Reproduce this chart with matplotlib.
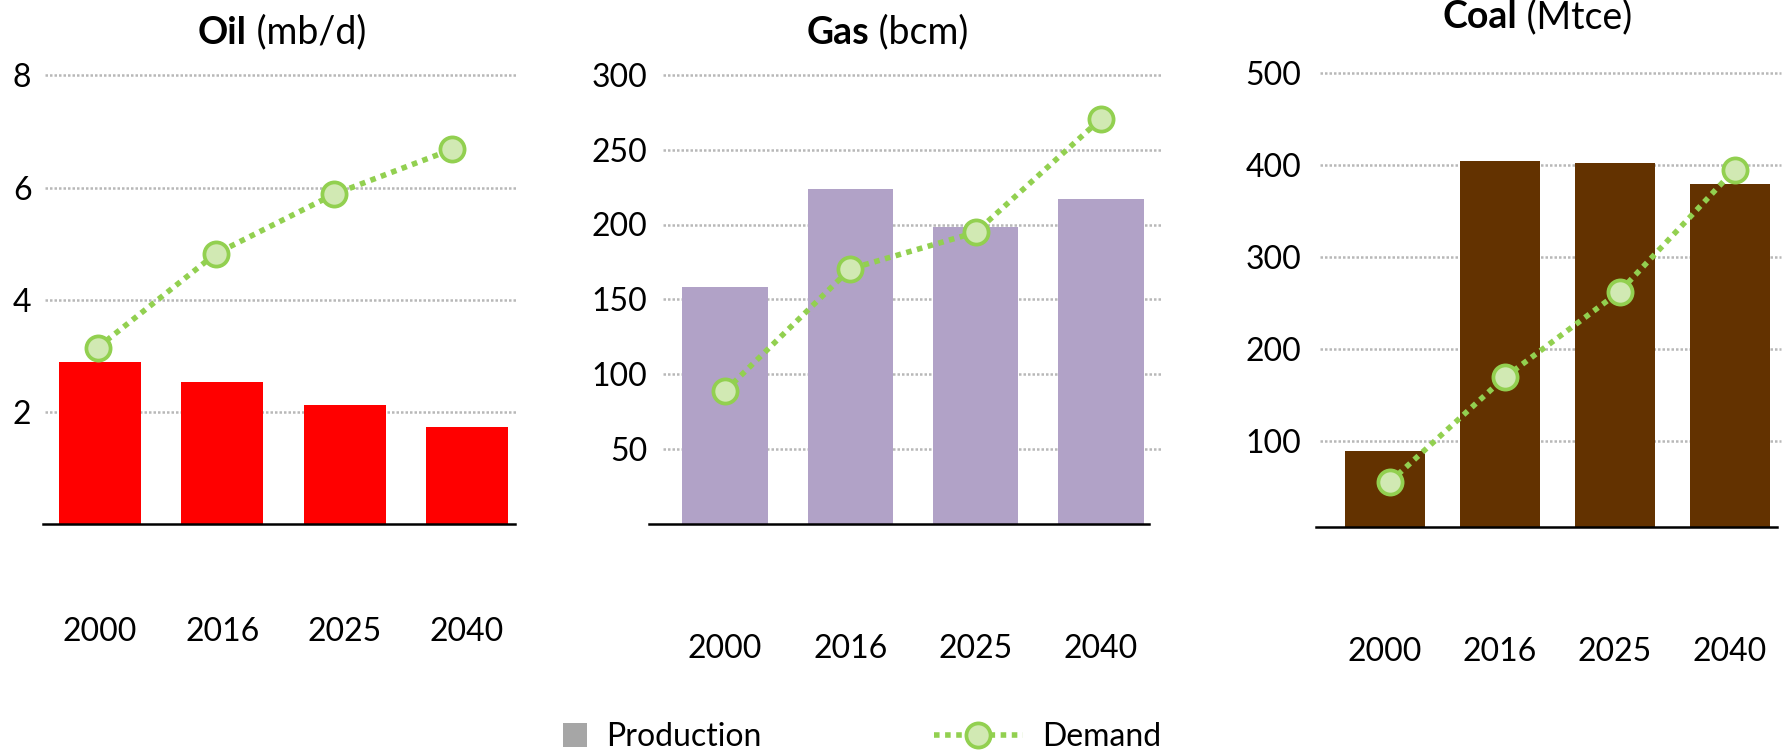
import matplotlib
matplotlib.use("Agg")
import matplotlib.pyplot as plt
from matplotlib.patches import Patch
from matplotlib.lines import Line2D

plt.rcParams['font.family'] = ['Lato', 'DejaVu Sans']

# ---------------- data ----------------
years = ["2000", "2016", "2025", "2040"]

oil_production = [2.89, 2.53, 2.13, 1.73]
oil_demand = [3.15, 4.82, 5.88, 6.68]
oil_ticks = [2, 4, 6, 8]

gas_production = [158.2, 223.7, 198.2, 217.1]
gas_demand = [88.9, 170.4, 194.7, 270.4]
gas_ticks = [50, 100, 150, 200, 250, 300]

coal_production = [89.6, 404.7, 402.7, 379.8]
coal_demand = [55.9, 169.5, 262.7, 395.0]
coal_ticks = [100, 200, 300, 400, 500]

titles_bold = ["Oil", "Gas", "Coal"]
titles_unit = [" (mb/d)", " (bcm)", " (Mtce)"]
legend_labels = ["Production", "Demand"]

# ---------------- style ----------------
W, H = 1791, 754
GREEN = '#92D050'
GREEN_FACE = '#D1E9B3'
FS = 23
LINE_W = 4.0
DOTS = (0, (1, 1))

fig = plt.figure(figsize=(W / 100, H / 100), dpi=100)


def fx(px):
    return px / W


def fy(py):
    return 1 - py / H


panels = [
    dict(prod=oil_production, dem=oil_demand, ticks=oil_ticks, color='#FF0000',
         box=(43.2, 514.7, 75.4, 524.3), ylim=(0, 8),
         bar_xlim=(-0.4655, 3.391), line_xlim=(-0.461, 3.534), width=0.67,
         grid_span=(0.003, 1.0025), ypad=8.5, xpad=67,
         title_cx=282, title_base=43.6),
    dict(prod=gas_production, dem=gas_demand, ticks=gas_ticks, color='#B1A2C7',
         box=(649.0, 1149.2, 74.6, 524.3), ylim=(0, 300),
         bar_xlim=(-0.6064, 3.386), line_xlim=(-0.6064, 3.386), width=0.682,
         grid_span=(0.028, 1.025), ypad=1.0, xpad=79,
         title_cx=887.4, title_base=43.6),
    dict(prod=coal_production, dem=coal_demand, ticks=coal_ticks, color='#633200',
         box=(1316.1, 1776.7, 73.2, 526.8), ylim=(7.3, 500),
         bar_xlim=(-0.600, 3.406), line_xlim=(-0.639, 3.367), width=0.695,
         grid_span=(0.008, 1.0096), ypad=10.9, xpad=79,
         title_cx=1537, title_base=27.9),
]

renderer = fig.canvas.get_renderer()

for i, p in enumerate(panels):
    x0, x1, ytop, ybot = p['box']
    ax = fig.add_axes([fx(x0), fy(ybot), fx(x1 - x0), (ybot - ytop) / H])
    xs = list(range(len(years)))
    ax.bar(xs, p['prod'], width=p['width'], color=p['color'], zorder=2)
    ax.set_xlim(*p['bar_xlim'])
    ax.set_ylim(*p['ylim'])
    ax.hlines(p['ticks'], p['grid_span'][0], p['grid_span'][1],
              transform=ax.get_yaxis_transform(), colors='#B8B8B8',
              linewidth=1.8, linestyles=(0, (1, 0.8)), zorder=1, clip_on=False)
    ax.set_yticks(p['ticks'])
    ax.set_yticklabels([str(t) for t in p['ticks']])
    ax.set_xticks(xs)
    ax.set_xticklabels(years)
    ax.tick_params(axis='y', length=0, pad=p['ypad'], labelsize=FS)
    ax.tick_params(axis='x', length=0, pad=p['xpad'], labelsize=FS)
    for s in ['left', 'right', 'top']:
        ax.spines[s].set_visible(False)
    ax.spines['bottom'].set_linewidth(1.8)
    ax.spines['bottom'].set_color('black')
    ax.spines['bottom'].set_zorder(3)
    ax.patch.set_visible(False)

    ax2 = ax.twiny()
    ax2.set_xlim(*p['line_xlim'])
    ax2.plot(xs, p['dem'], color=GREEN, linewidth=LINE_W, linestyle=DOTS,
             dash_capstyle='butt', marker='o', markersize=17.4,
             markerfacecolor=GREEN_FACE, markeredgecolor=GREEN,
             markeredgewidth=2.7, zorder=4, clip_on=False)
    ax2.axis('off')

    # two-part title: bold name + regular unit
    t1 = fig.text(0, fy(p['title_base']), titles_bold[i], fontsize=27,
                  fontweight='bold', ha='left', va='baseline')
    t2 = fig.text(0, fy(p['title_base']), titles_unit[i], fontsize=27,
                  ha='left', va='baseline')
    w1 = t1.get_window_extent(renderer).width / W
    w2 = t2.get_window_extent(renderer).width / W
    start = fx(p['title_cx']) - (w1 + w2) / 2
    t1.set_x(start)
    t2.set_x(start + w1)

# legends
fig.legend(handles=[Patch(facecolor='#A6A6A6', edgecolor='none')],
           labels=[legend_labels[0]], loc='center left',
           bbox_to_anchor=(fx(562.8), fy(737)), frameon=False, borderpad=0,
           borderaxespad=0, handlelength=0.75, handleheight=0.75,
           handletextpad=0.6, fontsize=FS)
fig.legend(handles=[Line2D([], [], color=GREEN, linewidth=LINE_W,
                           linestyle=DOTS, dash_capstyle='butt',
                           marker='o', markersize=17.4,
                           markerfacecolor=GREEN_FACE, markeredgecolor=GREEN,
                           markeredgewidth=2.7)],
           labels=[legend_labels[1]], loc='center left',
           bbox_to_anchor=(fx(933.7), fy(737)), frameon=False, borderpad=0,
           borderaxespad=0, handlelength=2.8, handletextpad=0.6, fontsize=FS)

fig.savefig("out.png", dpi=100)
